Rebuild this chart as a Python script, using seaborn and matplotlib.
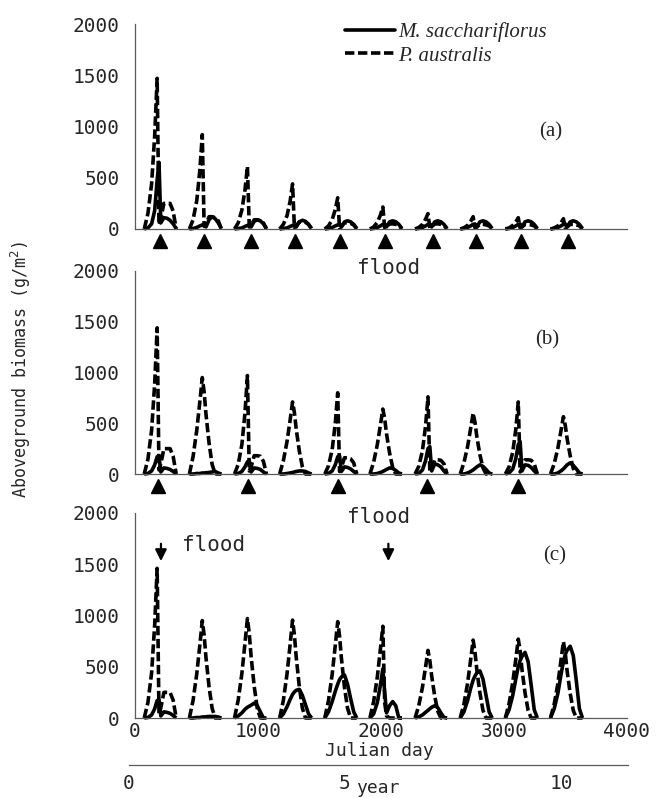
import pandas as pd
import matplotlib
matplotlib.use('Agg')
import matplotlib.pyplot as plt
from matplotlib.lines import Line2D
import seaborn as sns

# ---- data ----
SPECIES = ['M. sacchariflorus', 'P. australis']
YEAR_START = [0, 367, 734, 1101, 1468, 1835, 2202, 2569, 2936, 3303]
DAY_IN_YEAR = [75, 105, 135, 160, 180, 195, 210, 235, 260, 285, 310, 335]

# (a) cut every year
A_PA = [
    [0, 150, 440, 910, 1470, 40, 100, 250, 250, 250, 175, 0],
    [0, 90, 275, 570, 920, 25, 50, 120, 120, 110, 80, 0],
    [0, 60, 185, 380, 610, 20, 35, 90, 90, 80, 60, 0],
    [0, 45, 130, 270, 440, 15, 30, 70, 70, 65, 45, 0],
    [0, 30, 90, 190, 305, 10, 25, 60, 60, 55, 40, 0],
    [0, 20, 65, 135, 215, 10, 20, 50, 50, 45, 35, 0],
    [0, 15, 45, 95, 150, 10, 20, 50, 50, 45, 35, 0],
    [0, 12, 35, 75, 120, 10, 20, 45, 45, 40, 30, 0],
    [0, 10, 35, 70, 110, 10, 20, 45, 45, 40, 30, 0],
    [0, 10, 30, 60, 100, 10, 20, 45, 45, 40, 30, 0],
]
A_MS = [
    [0, 10, 50, 180, 480, 650, 60, 110, 105, 85, 50, 5],
    [0, 5, 15, 30, 40, 45, 20, 90, 120, 100, 60, 5],
    [0, 5, 10, 25, 35, 40, 20, 75, 90, 80, 50, 5],
    [0, 5, 10, 25, 35, 40, 20, 70, 85, 75, 45, 5],
    [0, 5, 15, 30, 40, 45, 20, 70, 80, 70, 45, 5],
    [0, 5, 15, 30, 45, 50, 20, 70, 80, 70, 45, 5],
    [0, 5, 15, 30, 45, 50, 20, 70, 80, 70, 45, 5],
    [0, 5, 15, 30, 45, 50, 20, 70, 80, 70, 45, 5],
    [0, 5, 15, 30, 45, 50, 20, 70, 80, 70, 45, 5],
    [0, 5, 15, 30, 45, 50, 20, 70, 80, 70, 45, 5],
]

# (b) cut every other year
B_PA = [
    [0, 145, 430, 890, 1440, 40, 100, 250, 250, 250, 175, 0],
    [0, 170, 430, 710, 950, 810, 590, 305, 95, 0, 0, 0],
    [0, 95, 290, 600, 970, 30, 70, 180, 180, 175, 125, 0],
    [0, 130, 320, 530, 710, 605, 440, 225, 70, 0, 0, 0],
    [0, 80, 240, 495, 800, 25, 65, 160, 160, 150, 110, 0],
    [0, 115, 290, 480, 640, 545, 395, 205, 65, 0, 0, 0],
    [0, 75, 230, 470, 760, 25, 55, 140, 140, 135, 100, 0],
    [0, 110, 270, 450, 600, 510, 370, 190, 60, 0, 0, 0],
    [0, 70, 215, 440, 710, 20, 55, 140, 140, 135, 100, 0],
    [0, 100, 255, 425, 565, 480, 350, 180, 55, 0, 0, 0],
]
B_MS = [
    [0, 5, 30, 90, 170, 175, 20, 60, 55, 45, 25, 0],
    [0, 0, 5, 5, 10, 10, 12, 15, 20, 25, 10, 0],
    [0, 5, 25, 70, 120, 130, 20, 60, 55, 45, 20, 0],
    [0, 0, 5, 10, 15, 20, 25, 30, 30, 25, 10, 0],
    [0, 5, 30, 90, 170, 180, 25, 70, 65, 50, 25, 0],
    [0, 0, 5, 15, 25, 35, 45, 60, 55, 35, 10, 0],
    [0, 5, 40, 130, 250, 270, 30, 100, 90, 70, 30, 0],
    [0, 0, 10, 25, 40, 55, 70, 90, 75, 45, 10, 0],
    [0, 10, 50, 150, 290, 320, 30, 90, 85, 65, 30, 0],
    [0, 0, 10, 30, 50, 70, 90, 110, 85, 50, 10, 0],
]

# (c) floods only
C_PA = [
    [0, 150, 440, 910, 1460, 40, 100, 250, 250, 250, 175, 0],
    [0, 170, 430, 710, 950, 810, 590, 305, 95, 0, 0, 0],
    [0, 175, 435, 730, 970, 825, 600, 310, 95, 0, 0, 0],
    [0, 170, 430, 715, 955, 810, 590, 305, 95, 0, 0, 0],
    [0, 170, 425, 705, 940, 800, 585, 300, 95, 0, 0, 0],
    [0, 160, 400, 670, 895, 150, 20, 0, 0, 0, 0, 0],
    [0, 120, 300, 495, 660, 560, 410, 210, 65, 0, 0, 0],
    [0, 135, 340, 570, 760, 645, 470, 245, 75, 0, 0, 0],
    [0, 140, 345, 575, 770, 655, 475, 245, 75, 0, 0, 0],
    [0, 135, 335, 560, 745, 635, 460, 240, 75, 0, 0, 0],
]
C_MS = [
    [0, 5, 30, 90, 170, 175, 20, 60, 55, 45, 25, 0],
    [0, 0, 5, 5, 10, 10, 12, 15, 15, 15, 10, 0],
    [0, 20, 50, 85, 105, 115, 125, 145, 120, 60, 0, 0],
    [0, 40, 110, 180, 230, 255, 270, 280, 220, 130, 40, 0],
    [0, 60, 160, 260, 330, 375, 400, 420, 330, 190, 60, 0],
    [0, 40, 150, 320, 480, 250, 50, 120, 160, 120, 0, 0],
    [0, 10, 30, 55, 75, 90, 105, 120, 100, 50, 5, 0],
    [0, 60, 170, 290, 370, 410, 440, 460, 380, 220, 60, 0],
    [0, 80, 220, 380, 500, 560, 600, 640, 550, 320, 80, 0],
    [0, 90, 240, 420, 550, 620, 660, 700, 610, 360, 90, 0],
]

CUT_DAYS_A = [205, 565, 940, 1300, 1665, 2035, 2420, 2775, 3140, 3520]
CUT_DAYS_B = [190, 915, 1650, 2375, 3110]
FLOOD_DAYS_C = [211, 2060]

Y_TICKS = [0, 500, 1000, 1500, 2000]
X_TICKS = [0, 1000, 2000, 3000, 4000]
YEAR_TICKS = [0, 5, 10]
YEAR_MAX = 11.55

W, H = 665, 798
MONO = ['DejaVu Sans Mono', 'DejaVu Sans']
SERIF = 'Liberation Serif'
AX_GREY = '#5a5a5a'
DASH = (2.6, 1.0)
LW = 2.6


def panel_frame(ms_rows, pa_rows):
    recs = []
    for sp, rows in zip(SPECIES, [ms_rows, pa_rows]):
        for yr, (start, row) in enumerate(zip(YEAR_START, rows)):
            for off, val in zip(DAY_IN_YEAR, row):
                recs.append({'species': sp, 'year': yr, 'day': start + off, 'biomass': val})
    return pd.DataFrame(recs)


def px_axes(fig, left, top, right, bottom):
    return fig.add_axes([left / W, 1 - bottom / H, (right - left) / W, (bottom - top) / H])


def style_axis(ax, xlabels):
    ax.set_xlim(0, 4000)
    ax.set_ylim(0, 2000)
    ax.set_xticks(X_TICKS)
    ax.set_yticks(Y_TICKS)
    sns.despine(ax=ax)
    for s in ['left', 'bottom']:
        ax.spines[s].set_color(AX_GREY)
        ax.spines[s].set_linewidth(0.9)
    ax.tick_params(axis='y', direction='in', length=6, width=0.9, color=AX_GREY,
                   pad=11, labelsize=14)
    ax.tick_params(axis='x', direction='in', length=5, width=0.9, color=AX_GREY,
                   pad=3, labelsize=14)
    if not xlabels:
        ax.set_xticklabels([])
    ax.set_xlabel('')
    ax.set_ylabel('')


sns.set_style('white')
plt.rcParams['font.family'] = MONO
plt.rcParams['mathtext.fontset'] = 'dejavusans'

fig = plt.figure(figsize=(W / 100, H / 100), dpi=100)

panels = [
    (panel_frame(A_MS, A_PA), 24, 229, '(a)', (3380, 950)),
    (panel_frame(B_MS, B_PA), 271, 474, '(b)', (3350, 1320)),
    (panel_frame(C_MS, C_PA), 513, 718, '(c)', (3415, 1580)),
]

axes = []
for i, (df, top, bottom, tag, tag_xy) in enumerate(panels):
    ax = px_axes(fig, 135, top, 627, bottom)
    sns.lineplot(data=df, x='day', y='biomass', style='species', units='year',
                 estimator=None, dashes={SPECIES[0]: '', SPECIES[1]: DASH},
                 color='black', lw=LW, ax=ax, legend=False)
    for ln in ax.lines:
        ln.set_clip_on(False)
        ln.set_solid_capstyle('butt')
    style_axis(ax, xlabels=(i == 2))
    ax.text(tag_xy[0], tag_xy[1], tag, family=SERIF, fontsize=15,
            ha='center', va='center')
    axes.append(ax)

ax_a, ax_b, ax_c = axes

# cutting events
for ax, days in [(ax_a, CUT_DAYS_A), (ax_b, CUT_DAYS_B)]:
    ax.plot(days, [-0.057] * len(days), linestyle='none', marker='^', color='black',
            markersize=10, transform=ax.get_xaxis_transform(), clip_on=False)

# flood labels
ax_b.text(2060, 2030, 'flood', fontsize=15, ha='center', va='center')
for d in FLOOD_DAYS_C:
    ax_c.annotate('', xy=(d, 1530), xytext=(d, 1700),
                  arrowprops=dict(arrowstyle='-|>', color='black', lw=1.6,
                                  mutation_scale=17, shrinkA=0, shrinkB=0))
ax_c.text(640, 1690, 'flood', fontsize=15, ha='center', va='center')
ax_c.text(1980, 1960, 'flood', fontsize=15, ha='center', va='center')

# legend
handles = [Line2D([], [], color='black', lw=LW, ls='-'),
           Line2D([], [], color='black', lw=LW, ls=(0, DASH))]
fig.legend(handles, SPECIES, loc='upper left', bbox_to_anchor=(345 / W, 1 - 22 / H),
           frameon=False, prop={'family': SERIF, 'style': 'italic', 'size': 15},
           handlelength=2.4, handletextpad=0.15, labelspacing=0.2,
           borderpad=0, borderaxespad=0)

# year axis
ax_y = fig.add_axes([128.5 / W, 1 - 765 / H, 499.5 / W, 0.0001])
ax_y.set_xlim(0, YEAR_MAX)
ax_y.set_yticks([])
ax_y.set_xticks(YEAR_TICKS + [YEAR_MAX])
ax_y.set_xticklabels([str(t) for t in YEAR_TICKS] + [''])
for s in ['left', 'right', 'top']:
    ax_y.spines[s].set_visible(False)
ax_y.spines['bottom'].set_color(AX_GREY)
ax_y.spines['bottom'].set_linewidth(0.9)
ax_y.tick_params(axis='x', direction='inout', length=9, width=0.9, color=AX_GREY,
                 pad=2, labelsize=14)
ax_y.patch.set_visible(False)

fig.text(379 / W, 1 - 751 / H, 'Julian day', fontsize=13, ha='center', va='center')
fig.text(378 / W, 1 - 788 / H, 'year', fontsize=13, ha='center', va='center')
fig.text(21 / W, 1 - 370 / H, 'Aboveground biomass (g/m$^2$)', fontsize=12,
         rotation=90, ha='center', va='center')

fig.savefig('out.png', dpi=100)
